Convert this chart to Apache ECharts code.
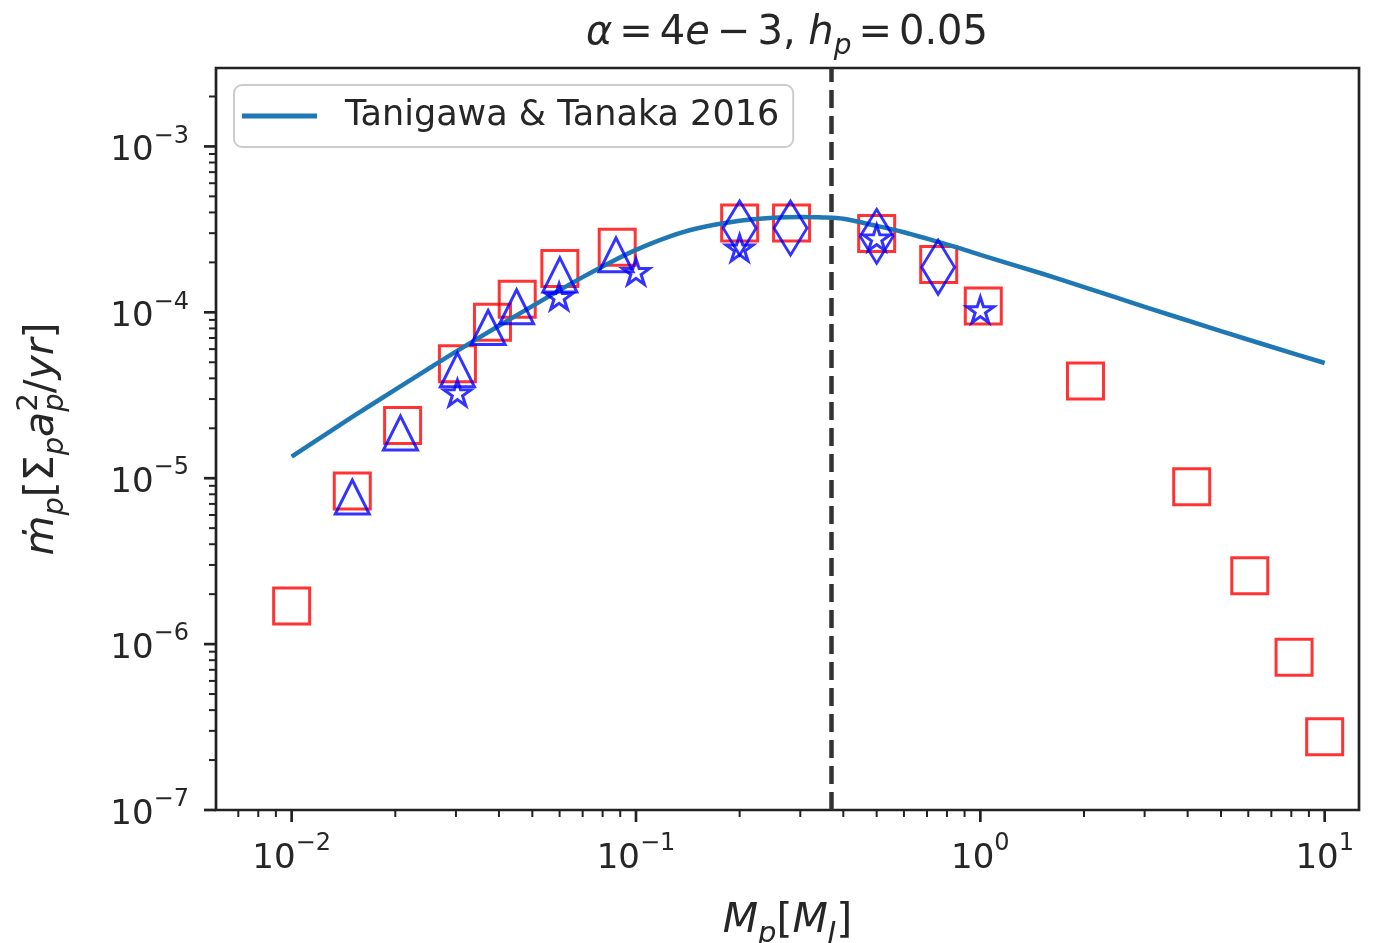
<!DOCTYPE html>
<html>
<head>
<meta charset="utf-8">
<title>Gas accretion rate vs planet mass</title>
<script src="https://cdn.jsdelivr.net/npm/echarts@6/dist/echarts.min.js"></script>
<style>
  html, body { margin: 0; padding: 0; background: #ffffff; }
  #chart { width: 1374px; height: 943px; }
</style>
</head>
<body>
<div id="chart"></div>
<script>
// ---- data -------------------------------------------------------------
// Tanigawa & Tanaka (2016) accretion curve, M_p in Jupiter masses
const curveMass = [0.01, 0.015, 0.02, 0.025, 0.03, 0.04, 0.05, 0.06, 0.07, 0.085,
                   0.1, 0.125, 0.15, 0.2, 0.25, 0.3, 0.35, 0.4, 0.5, 0.6,
                   0.7, 0.85, 1.0, 1.5, 2, 3, 5, 7, 10];
const curveRate = [1.35e-5, 2.34e-5, 3.42e-5, 4.58e-5, 5.80e-5, 8.30e-5, 1.09e-4, 1.36e-4, 1.63e-4, 2.02e-4,
                   2.38e-4, 2.86e-4, 3.20e-4, 3.56e-4, 3.71e-4, 3.75e-4, 3.73e-4, 3.66e-4, 3.32e-4, 3.04e-4,
                   2.78e-4, 2.47e-4, 2.22e-4, 1.72e-4, 1.42e-4, 1.08e-4, 7.7e-5, 6.2e-5, 4.95e-5];

// simulation runs (red squares)
const squareMass = [0.01, 0.015, 0.021, 0.0303, 0.0383, 0.0452, 0.0601, 0.0882, 0.2, 0.283,
                    0.5, 0.757, 1.02, 2.02, 4.11, 6.06, 8.15, 10];
const squareRate = [1.70e-6, 8.36e-6, 2.08e-5, 4.89e-5, 8.7e-5, 1.2e-4, 1.835e-4, 2.466e-4, 3.45e-4, 3.45e-4,
                    2.985e-4, 1.94e-4, 1.09e-4, 3.85e-5, 8.87e-6, 2.58e-6, 8.34e-7, 2.76e-7];

// comparison runs (blue triangles, stars, thin diamonds)
const triangleMass = [0.015, 0.0207, 0.0303, 0.0372, 0.045, 0.0601, 0.0875];
const triangleRate = [7.7e-6, 1.87e-5, 4.5e-5, 8.1e-5, 1.08e-4, 1.68e-4, 2.22e-4];

const starMass = [0.0303, 0.0598, 0.1, 0.2, 0.5, 1.0];
const starRate = [3.27e-5, 1.245e-4, 1.76e-4, 2.44e-4, 2.81e-4, 1.035e-4];

const diamondMass = [0.2, 0.281, 0.5, 0.754];
const diamondRate = [3.22e-4, 3.22e-4, 2.87e-4, 1.87e-4];

// gap-opening mass (dashed vertical line)
const transitionMass = 0.373;

// axis ranges and tick decades
const X_MIN = 0.00603, X_MAX = 12.58;
const Y_MIN = 1e-7, Y_MAX = 0.00297;
const X_DECADES = [-3, -2, -1, 0, 1];
const Y_DECADES = [-8, -7, -6, -5, -4, -3];
const MINOR_STEPS = [2, 3, 4, 5, 6, 7, 8, 9];

// ---- styling ----------------------------------------------------------
const FONT = "'DejaVu Sans', 'Liberation Sans', sans-serif";
const INK = '#262626';
const AXIS_COLOR = '#222222';
const MAJOR_LEN = 12, MINOR_LEN = 7;

const STAR_PATH = 'path://M0,-100L22.45,-30.9L95.11,-30.9L36.33,11.8L58.78,80.9L0,38.2L-58.78,80.9L-36.33,11.8L-95.11,-30.9L-22.45,-30.9Z';

const zip = (xs, ys) => xs.map((x, i) => [x, ys[i]]);

// tick positions: majors at powers of ten, minors at 2..9 x 10^k
function logTicks(decades, lo, hi) {
  const out = [];
  decades.forEach(d => {
    const base = Math.pow(10, d);
    if (base >= lo * 0.999 && base <= hi * 1.001) out.push([base, MAJOR_LEN]);
    MINOR_STEPS.forEach(s => {
      const v = s * base;
      if (v >= lo * 0.999 && v <= hi * 1.001) out.push([v, MINOR_LEN]);
    });
  });
  return out;
}
const xTickData = logTicks(X_DECADES, X_MIN, X_MAX).map(t => [t[0], Y_MIN, t[1]]);
const yTickData = logTicks(Y_DECADES, Y_MIN, Y_MAX).map(t => [X_MIN, t[0], t[1]]);

function powerLabel(v) {
  const e = Math.log10(v);
  const n = Math.round(e);
  if (Math.abs(e - n) > 1e-6) return '';
  const exp = n < 0 ? '\u2212' + (-n) : String(n);
  return '{b|10}{s|' + exp + '}';
}

const labelRich = {
  b: { fontSize: 34, fontFamily: FONT, color: INK, lineHeight: 44, verticalAlign: 'bottom' },
  s: { fontSize: 24, fontFamily: FONT, color: INK, lineHeight: 34, verticalAlign: 'top' }
};

// mathtext-like rich styles; "st" is a zero-advance superscript stacked over the next subscript
const mathRich = (size, sub, gap) => {
  const half = Math.round(sub * 0.318);
  return {
    it: { fontSize: size, fontFamily: FONT, fontStyle: 'italic', fontWeight: 'normal', color: INK, lineHeight: size + 14 },
    rm: { fontSize: size, fontFamily: FONT, fontWeight: 'normal', color: INK, lineHeight: size + 14 },
    op: { fontSize: size, fontFamily: FONT, fontWeight: 'normal', color: INK, lineHeight: size + 14, padding: [0, gap, 0, gap] },
    sb: { fontSize: sub, fontFamily: FONT, fontStyle: 'italic', fontWeight: 'normal', color: INK, lineHeight: sub, verticalAlign: 'bottom' },
    st: { fontSize: sub, fontFamily: FONT, fontWeight: 'normal', color: INK, lineHeight: sub, verticalAlign: 'top',
          width: 1, padding: [0, -(half + 1), 0, half] }
  };
};

// ---- chart ------------------------------------------------------------
const chart = echarts.init(document.getElementById('chart'), null, { renderer: 'canvas' });

const tickRender = (vertical) => (params, api) => {
  const p = api.coord([api.value(0), api.value(1)]);
  const len = api.value(2);
  const shape = vertical
    ? { x1: p[0], y1: p[1], x2: p[0], y2: p[1] + len }
    : { x1: p[0], y1: p[1], x2: p[0] - len, y2: p[1] };
  return {
    type: 'line',
    shape: shape,
    style: { stroke: AXIS_COLOR, lineWidth: len === MAJOR_LEN ? 2.7 : 2 }
  };
};

chart.setOption({
  backgroundColor: '#ffffff',
  animation: false,
  title: {
    text: '{it|\u03b1}{op|=}{rm|4}{it|e}{op|\u2212}{rm|3, }{it|h}{sb|p}{op|=}{rm|0.05}',
    left: 782,
    top: 2,
    textAlign: 'center',
    textStyle: { fontWeight: 'normal', rich: mathRich(40, 28, 7) }
  },
  legend: {
    left: 234,
    top: 85,
    data: [{ name: 'Tanigawa & Tanaka 2016', icon: 'rect' }],
    itemWidth: 75,
    itemHeight: 5,
    padding: [11, 14, 11, 8],
    backgroundColor: 'rgba(255,255,255,0.8)',
    borderColor: '#cccccc',
    borderWidth: 2,
    borderRadius: 8,
    selectedMode: false,
    textStyle: { fontSize: 35, fontFamily: FONT, color: INK, lineHeight: 40, padding: [0, 0, 0, 23] }
  },
  grid: {
    left: 216, right: 15, top: 68, bottom: 133,
    outerBoundsMode: 'none',
    containLabel: false,
    show: true, borderColor: AXIS_COLOR, borderWidth: 2.7, backgroundColor: 'transparent'
  },
  xAxis: {
    type: 'log',
    logBase: 10,
    min: X_MIN,
    max: X_MAX,
    splitLine: { show: false },
    axisTick: { show: false },
    axisLine: { show: false },
    axisLabel: { margin: 22, formatter: powerLabel, rich: labelRich, hideOverlap: false },
    name: '{it|M}{sb|p}{rm|[}{it|M}{sb|J}{rm|]}',
    nameLocation: 'middle',
    nameGap: 84,
    nameTextStyle: { rich: mathRich(41, 29, 0) }
  },
  yAxis: {
    type: 'log',
    logBase: 10,
    min: Y_MIN,
    max: Y_MAX,
    splitLine: { show: false },
    axisTick: { show: false },
    axisLine: { show: false },
    axisLabel: { margin: 27, formatter: powerLabel, rich: labelRich, hideOverlap: false },
    name: '{it|\u1e41}{sb|p}{rm|[\u03a3}{sb|p}{it|a}{st|2}{sb|p}{rm|/}{it|yr}{rm|]}',
    nameLocation: 'middle',
    nameGap: 146,
    nameRotate: 90,
    nameTextStyle: { rich: mathRich(41, 29, 0) }
  },
  series: [
    {
      name: 'simulation',
      type: 'scatter',
      data: zip(squareMass, squareRate),
      symbol: 'rect',
      symbolSize: 36,
      itemStyle: { color: 'rgba(0,0,0,0)', borderColor: '#ff0000', borderWidth: 3 },
      silent: true,
      z: 3
    },
    {
      name: 'Tanigawa & Tanaka 2016',
      type: 'line',
      data: zip(curveMass, curveRate),
      showSymbol: false,
      symbol: 'none',
      smooth: 0.3,
      color: '#1f77b4',
      lineStyle: { color: '#1f77b4', width: 4.5 },
      silent: true,
      z: 4,
      markLine: {
        silent: true,
        symbol: 'none',
        label: { show: false },
        lineStyle: { color: '#333333', width: 4.5, type: [18, 8] },
        data: [{ xAxis: transitionMass }]
      }
    },
    {
      name: 'triangle runs',
      type: 'scatter',
      data: zip(triangleMass, triangleRate),
      symbol: 'triangle',
      symbolSize: [34, 34],
      itemStyle: { color: 'rgba(0,0,0,0)', borderColor: '#0000ff', borderWidth: 3 },
      silent: true,
      z: 5
    },
    {
      name: 'star runs',
      type: 'scatter',
      data: zip(starMass, starRate),
      symbol: STAR_PATH,
      symbolSize: [27, 25.5],
      itemStyle: { color: 'rgba(0,0,0,0)', borderColor: '#0000ff', borderWidth: 3 },
      silent: true,
      z: 5
    },
    {
      name: 'diamond runs',
      type: 'scatter',
      data: zip(diamondMass, diamondRate),
      symbol: 'diamond',
      symbolSize: [33, 54],
      itemStyle: { color: 'rgba(0,0,0,0)', borderColor: '#0000ff', borderWidth: 3 },
      silent: true,
      z: 5
    },
    {
      name: 'x ticks',
      type: 'custom',
      data: xTickData,
      renderItem: tickRender(true),
      clip: false,
      silent: true,
      z: 6
    },
    {
      name: 'y ticks',
      type: 'custom',
      data: yTickData,
      renderItem: tickRender(false),
      clip: false,
      silent: true,
      z: 6
    }
  ]
});
</script>
</body>
</html>
